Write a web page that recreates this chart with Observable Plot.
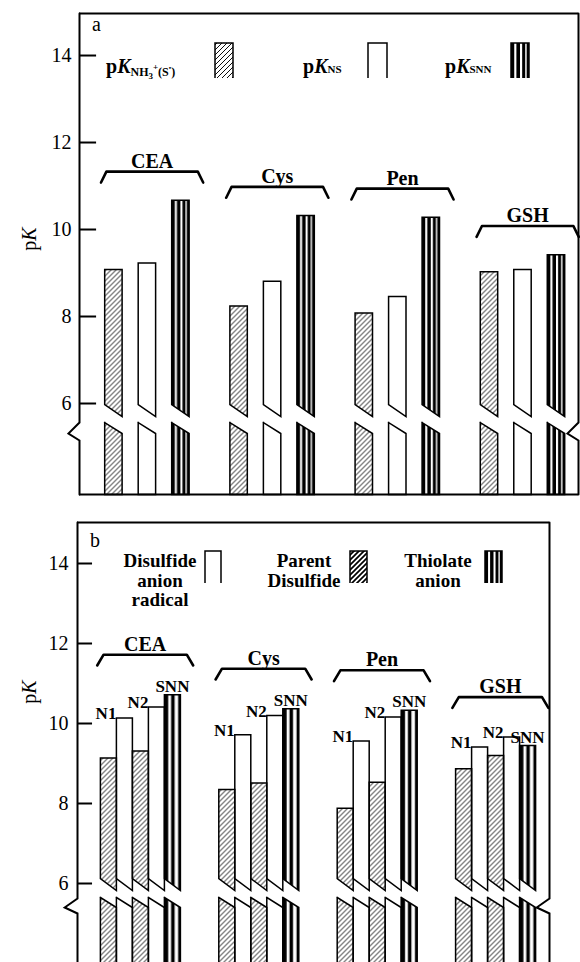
<!DOCTYPE html>
<html>
<head>
<meta charset="utf-8">
<script src="https://cdn.jsdelivr.net/npm/d3@7"></script>
<script src="https://cdn.jsdelivr.net/npm/@observablehq/plot@0.6"></script>
<style>
  html, body { margin: 0; padding: 0; background: #fff; overflow: hidden; }
  #chart svg { display: block; }
</style>
</head>
<body>
<svg width="0" height="0" style="position:absolute">
  <defs>
    <pattern id="hatchA" patternUnits="userSpaceOnUse" width="5" height="5">
      <path d="M-1,1 L1,-1 M0,5 L5,0 M4,6 L6,4" stroke="#000" stroke-width="0.95"/>
    </pattern>
    <pattern id="hatchBold" patternUnits="userSpaceOnUse" width="5" height="5">
      <path d="M-1,1 L1,-1 M0,5 L5,0 M4,6 L6,4" stroke="#000" stroke-width="1.7"/>
    </pattern>
    <pattern id="snnA" patternUnits="objectBoundingBox" patternContentUnits="objectBoundingBox" width="1" height="1">
      <rect width="1" height="1" fill="#fff"/>
      <rect x="0" width="0.18" height="1" fill="#000"/>
      <rect x="0.30" width="0.20" height="1" fill="#000"/>
      <rect x="0.62" width="0.17" height="1" fill="#000"/>
      <rect x="0.87" width="0.13" height="1" fill="#000"/>
    </pattern>
    <pattern id="snnB" patternUnits="objectBoundingBox" patternContentUnits="objectBoundingBox" width="1" height="1">
      <rect width="1" height="1" fill="#fff"/>
      <rect x="0" width="0.24" height="1" fill="#000"/>
      <rect x="0.42" width="0.22" height="1" fill="#000"/>
      <rect x="0.86" width="0.14" height="1" fill="#000"/>
    </pattern>
  </defs>
</svg>
<div id="chart"></div>
<script>
// ---------- data ----------
const groups = ["CEA", "Cys", "Pen", "GSH"];
const yTicks = [6, 8, 10, 12, 14];

// panel a
const pK_NH3 = [9.08, 8.24, 8.08, 9.03];
const pK_NS  = [9.23, 8.81, 8.46, 9.08];
const pK_SNN = [10.67, 10.32, 10.28, 9.42];

// panel b
const parentN1   = [9.14, 8.35, 7.88, 8.87];
const radicalN1  = [10.14, 9.72, 9.56, 9.41];
const parentN2   = [9.31, 8.51, 8.53, 9.20];
const radicalN2  = [10.41, 10.20, 10.16, 9.66];
const thiolateSNN = [10.72, 10.37, 10.33, 9.45];

const FONT = "'Liberation Serif', 'Times New Roman', 'DejaVu Serif', serif";

function buildPanel(cfg) {
  const [xmin, xmax] = cfg.xdom;
  const [ymin, ymax] = cfg.ydom;
  const marks = [];

  // bars (broken into an upper and a lower piece)
  cfg.series.forEach(s => {
    const pts = [];
    s.values.forEach((v, g) => {
      const x0 = g * cfg.gs + s.slot, x1 = x0 + cfg.barW;
      const up = s.key + g + "u", lo = s.key + g + "l";
      pts.push({id: up, x: x0, y: v}, {id: up, x: x1, y: v}, {id: up, x: x1, y: cfg.brk.uR},
               {id: up, x: x0, y: cfg.brk.uL}, {id: up, x: x0, y: v});
      pts.push({id: lo, x: x0, y: cfg.brk.lL}, {id: lo, x: x1, y: cfg.brk.lR}, {id: lo, x: x1, y: cfg.bottom},
               {id: lo, x: x0, y: cfg.bottom}, {id: lo, x: x0, y: cfg.brk.lL});
    });
    marks.push(Plot.line(pts, {x: "x", y: "y", z: "id", fill: s.fill, stroke: "#000",
      strokeWidth: 1.5, strokeLinejoin: "miter", strokeMiterlimit: 10, strokeLinecap: "square"}));
  });

  // frame with broken left and right sides
  const side = (xa) => [
    {x: xa, y: ymax}, {x: xa, y: cfg.zig[0]}, {x: xa - cfg.zx, y: cfg.zig[1]},
    {x: xa, y: cfg.zig[2]}, {x: xa, y: cfg.axisBottom}
  ];
  marks.push(Plot.line(side(xmin), {x: "x", y: "y", stroke: "#000", strokeWidth: 2, strokeLinejoin: "miter", strokeMiterlimit: 10}));
  marks.push(Plot.line(side(xmax), {x: "x", y: "y", stroke: "#000", strokeWidth: 2, strokeLinejoin: "miter", strokeMiterlimit: 10}));
  marks.push(Plot.ruleY([ymax], {x1: xmin, x2: xmax, stroke: "#000", strokeWidth: 2}));
  if (cfg.bottomFrame) marks.push(Plot.ruleY([ymin], {x1: xmin, x2: xmax, stroke: "#000", strokeWidth: 2}));

  // inward ticks and labels
  marks.push(Plot.ruleY(yTicks, {x1: xmin, x2: xmin + cfg.tickLen, stroke: "#000", strokeWidth: 2}));
  marks.push(Plot.text(yTicks, {x: xmin, y: d => d, text: d => String(d), dx: -cfg.tickPad,
    textAnchor: "end", fontSize: 20, fontFamily: FONT, fill: "#000"}));

  // brackets with group names
  const level = groups.map((_, g) => Math.max(...cfg.series.map(s => s.values[g])) + cfg.brOffset);
  const br = [];
  groups.forEach((_, g) => {
    const s0 = g * cfg.gs, L = level[g];
    br.push({id: g, x: s0 + cfg.bL, y: L - cfg.drop}, {id: g, x: s0 + cfg.bL + cfg.inset, y: L},
            {id: g, x: s0 + cfg.bR - cfg.inset, y: L}, {id: g, x: s0 + cfg.bR, y: L - cfg.drop});
  });
  marks.push(Plot.line(br, {x: "x", y: "y", z: "id", stroke: "#000", strokeWidth: 2.6, strokeLinejoin: "round"}));
  marks.push(Plot.text(groups, {x: (d, g) => g * cfg.gs + (cfg.bL + cfg.bR) / 2, y: (d, g) => level[g],
    text: d => d, lineAnchor: "bottom", dy: -4, fontSize: 20, fontWeight: "bold", fontFamily: FONT, fill: "#000"}));

  if (cfg.extra) marks.push(...cfg.extra);

  return Plot.plot({
    width: 580, height: cfg.height,
    marginLeft: cfg.ml, marginRight: cfg.mr, marginTop: cfg.mt, marginBottom: cfg.mb,
    x: {domain: cfg.xdom, axis: null},
    y: {domain: cfg.ydom, axis: null},
    style: {fontFamily: FONT, background: "#fff", color: "#000", overflow: "visible"},
    marks
  });
}

// ---------- panel a ----------
const plotA = buildPanel({
  height: 500, ml: 79, mr: 2, mt: 13, mb: 6,
  xdom: [-0.752, 14.143], ydom: [3.908, 14.966],
  gs: 3.737, barW: 0.52,
  brk: {uL: 5.977, uR: 5.701, lL: 5.563, lR: 5.31},
  bottom: 3.908, axisBottom: 3.908, bottomFrame: true,
  zig: [5.563, 5.31, 5.149], zx: 0.33,
  tickLen: 0.51, tickPad: 8,
  brOffset: 0.66, bL: -0.11, bR: 2.94, inset: 0.16, drop: 0.25,
  series: [
    {key: "nh3", slot: 0, values: pK_NH3, fill: "url(#hatchA)"},
    {key: "ns", slot: 1, values: pK_NS, fill: "#fff"},
    {key: "snn", slot: 2, values: pK_SNN, fill: "url(#snnA)"}
  ]
});

// ---------- panel b ----------
const bGS = 7.4;
const nLabel = {fontSize: 17, fontWeight: "bold", fontFamily: FONT, fill: "#000", lineAnchor: "bottom"};
const plotB = buildPanel({
  height: 462, ml: 77, mr: 31, mt: 22, mb: 0,
  xdom: [-1.431, 28.069], ydom: [4.025, 15.025],
  gs: bGS, barW: 1,
  brk: {uL: 6.125, uR: 5.825, lL: 5.65, lR: 5.40},
  bottom: 3.8, axisBottom: 3.8, bottomFrame: false,
  zig: [5.625, 5.40, 5.25], zx: 0.8,
  tickLen: 0.94, tickPad: 9,
  brOffset: 1.0, bL: -0.2, bR: 5.8, inset: 0.4, drop: 0.27,
  series: [
    {key: "r1", slot: 1, values: radicalN1, fill: "#fff"},
    {key: "r2", slot: 3, values: radicalN2, fill: "#fff"},
    {key: "p1", slot: 0, values: parentN1, fill: "url(#hatchA)"},
    {key: "p2", slot: 2, values: parentN2, fill: "url(#hatchA)"},
    {key: "t", slot: 4, values: thiolateSNN, fill: "url(#snnB)"}
  ],
  extra: [
    Plot.text(radicalN1, {x: (d, g) => g * bGS + 1, y: d => d, text: () => "N1", textAnchor: "end", dy: 1, ...nLabel}),
    Plot.text(radicalN2, {x: (d, g) => g * bGS + 3, y: d => d, text: () => "N2", textAnchor: "end", dy: 1, ...nLabel}),
    Plot.text(thiolateSNN, {x: (d, g) => g * bGS + 4.5, y: d => d, text: () => "SNN", textAnchor: "middle", dy: -3, ...nLabel})
  ]
});

// ---------- legends / labels ----------
function swatch(g, x, y, w, h, fill) {
  g.append("rect").attr("x", x).attr("y", y).attr("width", w).attr("height", h).attr("fill", fill);
  g.append("path").attr("d", `M${x},${y + h}V${y}H${x + w}V${y + h}`)
    .attr("fill", "none").attr("stroke", "#000").attr("stroke-width", 1.5).attr("stroke-linejoin", "miter");
}
function pK(g, x, y) {
  const t = g.append("text").attr("x", x).attr("y", y).attr("font-size", 20)
    .attr("text-anchor", "start").attr("font-weight", "bold");
  t.append("tspan").text("p");
  t.append("tspan").attr("font-style", "italic").text("K");
  return t;
}
function yTitle(svg, x, y) {
  const t = svg.append("text").attr("transform", `translate(${x},${y}) rotate(-90)`)
    .attr("text-anchor", "middle").attr("font-size", 20).attr("font-family", FONT).attr("fill", "#000");
  t.append("tspan").text("p");
  t.append("tspan").attr("font-style", "italic").text("K");
}

{
  const svg = d3.select(plotA);
  const g = svg.append("g").attr("font-family", FONT).attr("fill", "#000").attr("text-anchor", "start");
  g.append("text").attr("x", 92).attr("y", 31).attr("font-size", 20).attr("text-anchor", "start").text("a");
  const t1 = pK(g, 106, 73);
  t1.append("tspan").attr("font-size", 12).attr("dy", 3).text("NH");
  t1.append("tspan").attr("font-size", 9).attr("dy", 3).text("3");
  t1.append("tspan").attr("font-size", 9).attr("dy", -9).text("+");
  t1.append("tspan").attr("font-size", 12).attr("dy", 6).text("(S");
  t1.append("tspan").attr("font-size", 7).attr("dy", -6).text("•");
  t1.append("tspan").attr("font-size", 12).attr("dy", 6).text(")");
  const t2 = pK(g, 303, 73);
  t2.append("tspan").attr("font-size", 11).text("NS");
  const t3 = pK(g, 445, 73);
  t3.append("tspan").attr("font-size", 11).text("SNN");
  swatch(g, 215, 43, 18, 35, "url(#hatchA)");
  swatch(g, 368, 43, 19, 35, "#fff");
  swatch(g, 511, 43, 18, 35, "url(#snnA)");
  yTitle(svg, 36, 239);
}
{
  const svg = d3.select(plotB);
  const g = svg.append("g").attr("font-family", FONT).attr("fill", "#000");
  g.append("text").attr("x", 90).attr("y", 47).attr("font-size", 20).attr("text-anchor", "start").text("b");
  const lines = (x, ys, arr) => arr.forEach((s, i) =>
    g.append("text").attr("x", x).attr("y", ys[i]).attr("text-anchor", "middle")
      .attr("font-size", 19).attr("font-weight", "bold").text(s));
  lines(160, [67, 87, 106], ["Disulfide", "anion", "radical"]);
  lines(304, [67, 87], ["Parent", "Disulfide"]);
  lines(438, [67, 87], ["Thiolate", "anion"]);
  swatch(g, 205, 51, 16, 32, "#fff");
  swatch(g, 350, 51, 17, 32, "url(#hatchBold)");
  swatch(g, 485, 51, 17, 32, "url(#snnA)");
  yTitle(svg, 36, 192);
}

document.getElementById("chart").append(plotA, plotB);
</script>
</body>
</html>
